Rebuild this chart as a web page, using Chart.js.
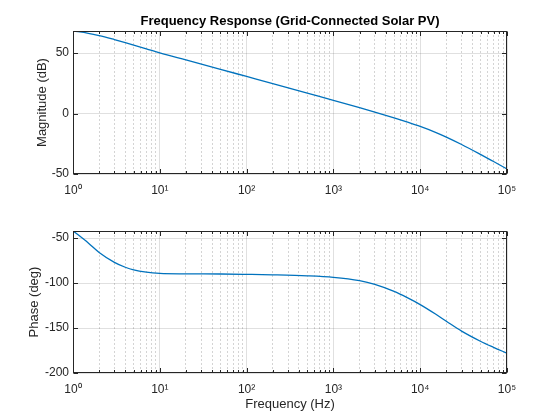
<!DOCTYPE html>
<html>
<head>
<meta charset="utf-8">
<script src="https://cdn.jsdelivr.net/npm/chart.js@4.4.1/dist/chart.umd.min.js"></script>
<style>
  body { margin: 0; background: #fff; }
  #wrap { position: relative; width: 560px; height: 420px; }
  canvas { position: absolute; left: 0; }
</style>
</head>
<body>
<div id="wrap">
  <canvas id="magChart" width="560" height="210" style="top:0"></canvas>
  <canvas id="phaseChart" width="560" height="210" style="top:210px"></canvas>
</div>
<script>
// values
var freqHz = [1, 1.5, 2, 3, 4, 5, 7, 10, 20, 50, 100, 200, 500, 1000, 2000, 3000, 5000, 7000, 10000, 15000, 20000, 30000, 50000, 70000, 100000];
var magnitudeDb = [68.3, 66.4, 64.5, 61.2, 58.7, 56.65, 53.6, 50.3, 44.4, 36.6, 30.7, 24.8, 16.9, 11, 4.9, 1.2, -3.6, -6.9, -10.6, -15.5, -19.45, -25.6, -34, -39.7, -45.8];
var phaseDeg = [-42, -55.5, -66, -77, -82.5, -85.5, -88, -89.3, -89.8, -90, -90.4, -90.9, -92, -93.7, -97.4, -101.5, -109.3, -116, -124, -134.5, -142.5, -153.5, -165, -171.5, -178];

var decadeTicks = [1, 10, 100, 1000, 10000, 100000];
var decadeLabels = ['10⁰', '10¹', '10²', '10³', '10⁴', '10⁵'];
var minorSteps = [2, 3, 4, 5, 6, 7, 8, 9];
var magTicks = [-50, 0, 50];
var phaseTicks = [-200, -150, -100, -50];

var FONT = "'Liberation Sans', Arial, Helvetica, sans-serif";
var AXIS_COLOR = '#262626';
var LINE_COLOR = '#0072BD';

// all log-axis tick values: decades plus the 2..9 minors in between
var freqTicks = [];
decadeTicks.forEach(function (d, i) {
    freqTicks.push(d);
    if (i < decadeTicks.length - 1) {
        minorSteps.forEach(function (m) { freqTicks.push(d * m); });
    }
});

function isDecade(v) {
    return decadeTicks.indexOf(v) >= 0;
}

function toPoints(ys) {
    return freqHz.map(function (f, i) { return {x: f, y: ys[i]}; });
}

// MATLAB-like box with inward tick marks on all four sides
var boxPlugin = {
    id: 'boxPlugin',
    afterDraw: function (chart) {
        var ctx = chart.ctx;
        var a = chart.chartArea;
        var xs = chart.scales.x, ys = chart.scales.y;
        var L = Math.round(a.left) + 0.5, R = Math.round(a.right) - 0.5;
        var T = Math.round(a.top) + 0.5, B = Math.round(a.bottom) - 0.5;
        ctx.save();
        ctx.strokeStyle = AXIS_COLOR;
        ctx.lineWidth = 1;
        ctx.beginPath();
        xs.ticks.forEach(function (t) {
            var px = Math.round(xs.getPixelForValue(t.value)) + 0.5;
            var len = isDecade(t.value) ? 4.5 : 2.5;
            ctx.moveTo(px, B); ctx.lineTo(px, B - len);
            ctx.moveTo(px, T); ctx.lineTo(px, T + len);
        });
        ys.ticks.forEach(function (t) {
            var py = Math.round(ys.getPixelForValue(t.value)) + 0.5;
            ctx.moveTo(L, py); ctx.lineTo(L + 4.5, py);
            ctx.moveTo(R, py); ctx.lineTo(R - 4.5, py);
        });
        ctx.stroke();
        ctx.strokeRect(L, T, R - L, B - T);
        ctx.restore();
    }
};

function makeChart(id, ys, yMin, yMax, yTicks, opts) {
    var ctx = document.getElementById(id).getContext('2d');
    return new Chart(ctx, {
        type: 'line',
        data: {
            datasets: [{
                data: toPoints(ys),
                borderColor: LINE_COLOR,
                borderWidth: 1.3,
                pointRadius: 0,
                fill: false,
                cubicInterpolationMode: 'monotone'
            }]
        },
        options: {
            responsive: false,
            animation: false,
            layout: {padding: opts.padding},
            plugins: {
                legend: {display: false},
                tooltip: {enabled: false},
                title: opts.title
            },
            scales: {
                x: {
                    type: 'logarithmic',
                    min: 1,
                    max: 100000,
                    afterBuildTicks: function (s) {
                        s.ticks = freqTicks.map(function (v) { return {value: v, major: false}; });
                    },
                    afterFit: function (s) { s.height = opts.xHeight; },
                    ticks: {
                        autoSkip: false,
                        maxRotation: 0,
                        padding: 9,
                        color: AXIS_COLOR,
                        font: {family: FONT, size: 12},
                        callback: function (v) {
                            var i = decadeTicks.indexOf(v);
                            return i >= 0 ? decadeLabels[i] : '';
                        }
                    },
                    grid: {
                        drawTicks: false,
                        color: function (c) {
                            return (c.tick && isDecade(c.tick.value)) ? 'rgba(38,38,38,0.14)' : 'rgba(38,38,38,0.2)';
                        }
                    },
                    border: {
                        display: false,
                        dash: function (c) {
                            return (c.tick && !isDecade(c.tick.value)) ? [2, 2] : [];
                        }
                    },
                    title: opts.xTitle
                },
                y: {
                    type: 'linear',
                    min: yMin,
                    max: yMax,
                    afterBuildTicks: function (s) {
                        s.ticks = yTicks.map(function (v) { return {value: v}; });
                    },
                    afterFit: function (s) { s.width = 73; },
                    ticks: {
                        padding: 4,
                        color: AXIS_COLOR,
                        font: {family: FONT, size: 12}
                    },
                    grid: {
                        drawTicks: false,
                        color: 'rgba(38,38,38,0.14)'
                    },
                    border: {display: false},
                    title: opts.yTitle
                }
            }
        },
        plugins: [boxPlugin]
    });
}

makeChart('magChart', magnitudeDb, -50, 68.3, magTicks, {
    padding: {left: 0, right: 53, top: 0, bottom: 0},
    xHeight: 36,
    title: {
        display: true,
        fullSize: false,
        text: 'Frequency Response (Grid-Connected Solar PV)',
        color: '#000',
        font: {family: FONT, size: 13, weight: 'bold'},
        padding: {top: 14, bottom: 1.4}
    },
    xTitle: {display: false},
    yTitle: {
        display: true,
        text: 'Magnitude (dB)',
        color: AXIS_COLOR,
        font: {family: FONT, size: 13},
        padding: {top: 34.2, bottom: 0}
    }
});

makeChart('phaseChart', phaseDeg, -200, -42.2, phaseTicks, {
    padding: {left: 0, right: 53, top: 21, bottom: 0},
    xHeight: 47,
    title: {display: false},
    xTitle: {
        display: true,
        text: 'Frequency (Hz)',
        color: AXIS_COLOR,
        font: {family: FONT, size: 13},
        padding: {top: 0, bottom: 7.4}
    },
    yTitle: {
        display: true,
        text: 'Phase (deg)',
        color: AXIS_COLOR,
        font: {family: FONT, size: 13},
        padding: {top: 27, bottom: 0}
    }
});
</script>
</body>
</html>
